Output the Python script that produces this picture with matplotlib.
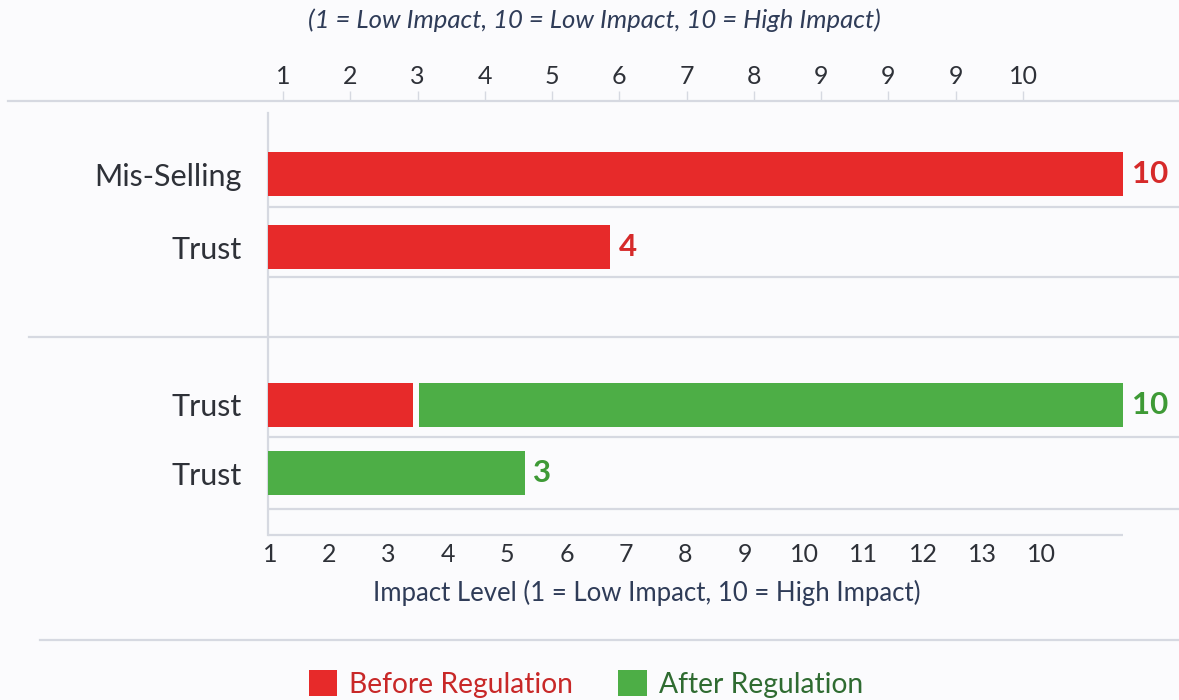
import numpy as np
import matplotlib
matplotlib.use("Agg")
import matplotlib.pyplot as plt
from matplotlib.lines import Line2D
from matplotlib.patches import Patch

# ---- data ----
categories = ["Mis-Selling", "Trust", "Trust", "Trust"]
before_vals = [10, 4, 1.7, 0]
after_vals = [0, 0, 10, 3]
value_labels = ["10", "4", "10", "3"]
label_series = ["before", "before", "after", "after"]
top_tick_labels = ["1", "2", "3", "4", "5", "6", "7", "8", "9", "9", "9", "10"]
bottom_tick_labels = ["1", "2", "3", "4", "5", "6", "7", "8", "9", "10",
                      "11", "12", "13", "10"]
subtitle = "(1 = Low Impact, 10 = Low Impact, 10 = High Impact)"
xlabel = "Impact Level (1 = Low Impact, 10 = High Impact)"
legend_labels = ["Before Regulation", "After Regulation"]

# ---- style ----
RED = "#E72A2A"
GREEN = "#4DAE46"
RED_TXT = "#D62A2A"
GREEN_TXT = "#3E9A36"
GRID = "#D6D9E1"
TEXT = "#2E3138"
NAVY = "#2F3C58"
BG = "#FBFBFD"
FONT = ["Lato", "DejaVu Sans"]

plt.rcParams["font.family"] = FONT

W, H = 1179, 700
fig = plt.figure(figsize=(W / 100, H / 100), dpi=100, facecolor=BG)


def fx(px):
    return px / W


def fy(py):
    return 1 - py / H


# main bar axes
ax = fig.add_axes([fx(268), fy(535), fx(W - 268), (535 - 113) / H])
ax.set_facecolor(BG)
row_pos = np.array([0.0, 1.0, 3.16, 4.1])
bar_h = 0.6
gap = 0.07

before = np.array(before_vals, dtype=float)
after = np.array(after_vals, dtype=float)
has_before = before > 0
has_after = after > 0

ax.barh(row_pos[has_before], before[has_before], height=bar_h,
        color=RED, linewidth=0, zorder=3)
after_left = np.where(has_before, before + gap, 0.0)
ax.barh(row_pos[has_after], (after - after_left)[has_after],
        left=after_left[has_after], height=bar_h, color=GREEN,
        linewidth=0, zorder=3)

totals = np.maximum(before, after)
for y, tot, lab, ser in zip(row_pos, totals, value_labels, label_series):
    ax.text(tot + 0.1, y, lab, va="center", ha="left", fontsize=22.5,
            fontweight="bold", color=RED_TXT if ser == "before" else GREEN_TXT,
            family=FONT)

ax.set_xlim(0, 10 * (W - 268) / (1123 - 268))
ax.set_ylim(4.945, -0.836)

# horizontal guide lines
for yl in [0.45, 1.41, 3.60, 4.59]:
    ax.axhline(yl, color=GRID, lw=1.6, zorder=1)
ax.hlines(4.945, 0, 10, color=GRID, lw=1.6, zorder=1, clip_on=False)

for s in ["top", "right", "bottom"]:
    ax.spines[s].set_visible(False)
ax.spines["left"].set_color(GRID)
ax.spines["left"].set_linewidth(1.6)

ax.set_yticks(row_pos)
ax.set_yticklabels(categories, fontsize=22, color=TEXT)
ax.tick_params(axis="y", length=0, pad=19)

ax.set_xticks(np.linspace(0.02, 9.05, len(bottom_tick_labels)))
ax.set_xticklabels(bottom_tick_labels, fontsize=18, color=TEXT)
ax.tick_params(axis="x", length=0, pad=6)
ax.set_xlabel(xlabel, fontsize=18.5, color=NAVY)
ax.xaxis.set_label_coords((647 - 268) / (W - 268), (535 - 580) / (535 - 113))

# top ruler
rax = fig.add_axes([fx(8), fy(101), fx(W - 8), 10 / H])
rax.set_facecolor("none")
step = (1023 - 283) / (len(top_tick_labels) - 1)
rax.set_xlim(-(283 - 8) / step, (W - 283) / step)
rax.set_ylim(0, 1)
rax.set_yticks([])
rax.xaxis.tick_top()
rax.set_xticks(np.arange(len(top_tick_labels)))
rax.set_xticklabels(top_tick_labels, fontsize=18, color=TEXT)
rax.tick_params(axis="x", direction="in", length=7, width=1, color=GRID, pad=2)
for s in ["top", "left", "right"]:
    rax.spines[s].set_visible(False)
rax.spines["bottom"].set_color(GRID)
rax.spines["bottom"].set_linewidth(1.6)

# subtitle
fig.text(fx(594), fy(20), subtitle, ha="center", va="center", fontsize=18.5,
         style="italic", color=NAVY)

# section separators
fig.add_artist(Line2D([fx(29), 1], [fy(337), fy(337)], color=GRID, lw=1.6))
fig.add_artist(Line2D([fx(40), 1], [fy(640), fy(640)], color=GRID, lw=1.6))

# legend
handles = [Patch(facecolor=RED, edgecolor="none"),
           Patch(facecolor=GREEN, edgecolor="none")]
fig.legend(handles, legend_labels, loc="center", bbox_to_anchor=(fx(586), fy(684)),
           ncol=2, frameon=False, fontsize=20.3, handlelength=1.0,
           handleheight=1.0, handletextpad=0.45, columnspacing=1.6,
           labelcolor=["#C82828", "#2F6B31"])

fig.savefig("out.png", dpi=100, facecolor=BG)
